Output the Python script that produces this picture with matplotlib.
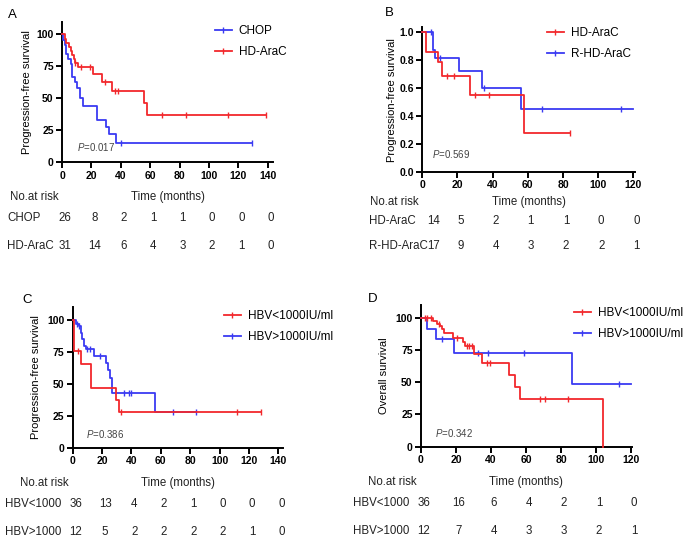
import numpy as np
import matplotlib
matplotlib.use("Agg")
import matplotlib.pyplot as plt
import matplotlib.transforms as mtrans
from matplotlib.lines import Line2D

plt.rcParams["font.family"] = ["Liberation Sans", "DejaVu Sans"]
plt.rcParams["mathtext.fontset"] = "custom"
plt.rcParams["mathtext.it"] = "Liberation Sans:italic"
plt.rcParams["mathtext.rm"] = "Liberation Sans"

W, H = 690, 543
RED, BLUE = "#f2282c", "#3a3af2"

# ---- panel A: CHOP vs HD-AraC (PFS, %)
A_chop_t = [0, 1, 2, 3, 4, 6, 7, 9, 10, 12, 14, 24, 30, 32, 37, 129]
A_chop_s = [100, 96, 92, 85, 81, 77, 67, 63, 58, 50, 44, 33, 28, 22, 15, 15]
A_chop_c = [40, 129]
A_hd_t = [0, 2, 3, 5, 6, 7, 8, 9, 11, 21, 27, 34, 56, 58, 139]
A_hd_s = [100, 96.8, 93.5, 90.3, 87.1, 83.9, 80.6, 77.4, 74.2, 68.9, 62.7, 56.0, 46.7, 37.3, 37.3]
A_hd_c = [9, 13, 19, 29, 36, 38, 68, 84, 113, 139]
A_risk = {"CHOP": [26, 8, 2, 1, 1, 0, 0, 0], "HD-AraC": [31, 14, 6, 4, 3, 2, 1, 0]}

# ---- panel B: HD-AraC vs R-HD-AraC (PFS, fraction)
B_hd_t = [0, 2, 9, 11, 27, 58, 84]
B_hd_s = [1.0, 0.857, 0.786, 0.686, 0.549, 0.274, 0.274]
B_hd_c = [14, 18, 30, 38, 84]
B_r_t = [0, 6, 7, 21, 34, 56, 120]
B_r_s = [1.0, 0.87, 0.81, 0.72, 0.60, 0.45, 0.45]
B_r_c = [5, 10, 35, 68, 113]
B_risk = {"HD-AraC": [14, 5, 2, 1, 1, 0, 0], "R-HD-AraC": [17, 9, 4, 3, 2, 2, 1]}

# ---- panel C: HBV load (PFS, %)
C_lo_t = [0, 1.2, 5.5, 12.3, 29.6, 31.8, 128]
C_lo_s = [100, 75.5, 65.5, 47, 37.3, 28.2, 28.2]
C_lo_c = [3.6, 33, 112, 128]
C_hi_t = [0, 2.3, 4, 5.6, 6.5, 7.5, 9, 14.5, 22.5, 24, 25.5, 26.8, 56, 84]
C_hi_s = [100, 97, 95, 90, 85, 80, 77, 72, 66.5, 61, 54.5, 42.6, 28.2, 28.2]
C_hi_c = [3, 4.5, 10, 12, 18.5, 35, 38, 40, 68, 84]
C_risk = {"HBV<1000": [36, 13, 4, 2, 1, 0, 0, 0], "HBV>1000": [12, 5, 2, 2, 2, 2, 1, 0]}

# ---- panel D: HBV load (OS, %)
D_lo_t = [0, 6.7, 9, 11, 12, 13, 18, 24, 25, 30.5, 34.7, 50.5, 53.7, 56.6, 104]
D_lo_s = [100, 97.4, 95, 93.5, 91.4, 88.3, 84.6, 81.5, 78.3, 72, 65.3, 55.8, 46.5, 37.2, 0]
D_lo_c = [2.3, 3.6, 5.5, 10, 20.8, 26, 27.6, 29, 37.8, 39.4, 68, 70.9, 84.2]
D_hi_t = [0, 3.2, 8.4, 18.9, 86, 120]
D_hi_s = [100, 91.7, 83.3, 72.9, 48.6, 48.6]
D_hi_c = [11.8, 32.8, 38, 59, 113]
D_risk = {"HBV<1000": [36, 16, 6, 4, 2, 1, 0], "HBV>1000": [12, 7, 4, 3, 3, 2, 1]}

P_VALUES = ["0.017", "0.569", "0.386", "0.342"]

fig = plt.figure(figsize=(W / 100, H / 100), dpi=100)


def px_axes(l, t, r, b):
    return fig.add_axes([l / W, 1 - b / H, (r - l) / W, (b - t) / H])


def km(ax, t, s, cens, color, z):
    t = np.asarray(t, float)
    s = np.asarray(s, float)
    ax.step(t, s, where="post", color=color, lw=1.3, zorder=z, clip_on=False)
    idx = np.searchsorted(t, cens, side="right") - 1
    ax.plot(cens, s[idx], ls="none", marker="|", ms=4, mew=1.0, color=color,
            zorder=z, clip_on=False)


def style(ax, xlim, xticks, ylim, yticks, yfmt, ylabel, labx):
    ax.set_xlim(*xlim)
    ax.set_ylim(*ylim)
    ax.set_xticks(xticks)
    ax.set_yticks(yticks)
    ax.set_yticklabels([yfmt.format(v) for v in yticks])
    for sp in ["top", "right"]:
        ax.spines[sp].set_visible(False)
    for sp in ["left", "bottom"]:
        ax.spines[sp].set_linewidth(1.4)
    ax.tick_params(direction="out", length=4, width=1.4, labelsize=7.5, pad=2)
    for lab in ax.get_xticklabels() + ax.get_yticklabels():
        lab.set_fontweight("bold")
    ax.set_ylabel(ylabel, fontsize=8)
    ax.yaxis.set_label_coords(labx, 0.5)


def legend(ax, labels, x, y):
    hs = [Line2D([], [], color=RED, lw=1.3, marker="|", ms=4),
          Line2D([], [], color=BLUE, lw=1.3, marker="|", ms=4)]
    ax.legend(hs, labels, frameon=False, loc="upper left", fontsize=8.5,
              bbox_to_anchor=(x / W, 1 - y / H), bbox_transform=fig.transFigure,
              borderpad=0, borderaxespad=0, handlelength=1.4, handletextpad=0.6,
              labelspacing=0.75, numpoints=1)


def risk(ax, table, times, hdr_x, time_x, hdr_y, lab_x, row_y, first_shift=0):
    fig.text(hdr_x / W, 1 - hdr_y / H, "No.at risk", fontsize=8.3, color="#222",
             ha="left", va="center")
    fig.text(time_x / W, 1 - hdr_y / H, "Time (months)", fontsize=8.3, color="#222",
             ha="center", va="center")
    base = mtrans.blended_transform_factory(ax.transData, fig.transFigure)
    for (name, vals), ry in zip(table.items(), row_y):
        fig.text(lab_x / W, 1 - ry / H, name, fontsize=8.3, color="#222",
                 ha="left", va="center")
        for k, (tt, v) in enumerate(zip(times, vals)):
            dx = (first_shift if k == 0 else 3) / 100
            tr = base + mtrans.ScaledTranslation(dx, 0, fig.dpi_scale_trans)
            ax.text(tt, 1 - ry / H, str(v), transform=tr, fontsize=8.3,
                    color="#222", ha="center", va="center")


def pval(ax, x, y, p, size=7):
    ax.text(x, y, "$P$=" + p, fontsize=size, color="#444", ha="left", va="center")


# A
axA = px_axes(62, 21.7, 273, 162.3)
km(axA, A_chop_t, A_chop_s, A_chop_c, BLUE, 3)
km(axA, A_hd_t, A_hd_s, A_hd_c, RED, 4)
style(axA, (0, 143.5), range(0, 141, 20), (0, 110), [0, 25, 50, 75, 100], "{:d}",
      "Progression-free survival", -0.142)
hs = [Line2D([], [], color=BLUE, lw=1.3, marker="|", ms=4),
      Line2D([], [], color=RED, lw=1.3, marker="|", ms=4)]
axA.legend(hs, ["CHOP", "HD-AraC"], frameon=False, loc="upper left", fontsize=8.5,
           bbox_to_anchor=(215 / W, 1 - 25 / H), bbox_transform=fig.transFigure,
           borderpad=0, borderaxespad=0, handlelength=1.4, handletextpad=0.6,
           labelspacing=0.75, numpoints=1)
pval(axA, 10, 12.2, P_VALUES[0])
fig.text(8 / W, 1 - 15 / H, "A", fontsize=9.5, ha="left", va="center")
risk(axA, A_risk, range(0, 141, 20), 10, 168, 197, 7, [218, 246], first_shift=3)

# B
axB = px_axes(422.3, 27.5, 635.1, 171.7)
km(axB, B_hd_t, B_hd_s, B_hd_c, RED, 4)
km(axB, B_r_t, B_r_s, B_r_c, BLUE, 3)
style(axB, (0, 121), range(0, 121, 20), (0, 1.03), [0, 0.2, 0.4, 0.6, 0.8, 1.0],
      "{:.1f}", "Progression-free survival", -0.119)
legend(axB, ["HD-AraC", "R-HD-AraC"], 547, 27)
pval(axB, 5.5, 0.126, P_VALUES[1])
fig.text(385 / W, 1 - 13 / H, "B", fontsize=9.5, ha="left", va="center")
risk(axB, B_risk, range(0, 121, 20), 370, 529, 202, 369, [221, 246], first_shift=11)

# C
axC = px_axes(72.7, 307.3, 282.7, 447.7)
km(axC, C_hi_t, C_hi_s, C_hi_c, BLUE, 3)
km(axC, C_lo_t, C_lo_s, C_lo_c, RED, 4)
style(axC, (0, 143), range(0, 141, 20), (0, 110), [0, 25, 50, 75, 100], "{:d}",
      "Progression-free survival", -0.149)
legend(axC, ["HBV<1000IU/ml", "HBV>1000IU/ml"], 224, 310)
pval(axC, 9, 10.7, P_VALUES[2])
fig.text(22 / W, 1 - 300 / H, "C", fontsize=9.5, ha="left", va="center")
risk(axC, C_risk, range(0, 141, 20), 20, 178, 483, 5, [504, 532], first_shift=3)

# D
axD = px_axes(421, 305, 632, 446.7)
km(axD, D_hi_t, D_hi_s, D_hi_c, BLUE, 3)
km(axD, D_lo_t, D_lo_s, D_lo_c, RED, 4)
style(axD, (0, 120.5), range(0, 121, 20), (0, 110), [0, 25, 50, 75, 100], "{:d}",
      "Overall survival", -0.152)
legend(axD, ["HBV<1000IU/ml", "HBV>1000IU/ml"], 574, 307)
pval(axD, 8, 10.7, P_VALUES[3])
fig.text(368 / W, 1 - 299 / H, "D", fontsize=9.5, ha="left", va="center")
risk(axD, D_risk, range(0, 121, 20), 368, 526, 482, 353, [503, 531], first_shift=3)

fig.savefig("out.png", dpi=100)
